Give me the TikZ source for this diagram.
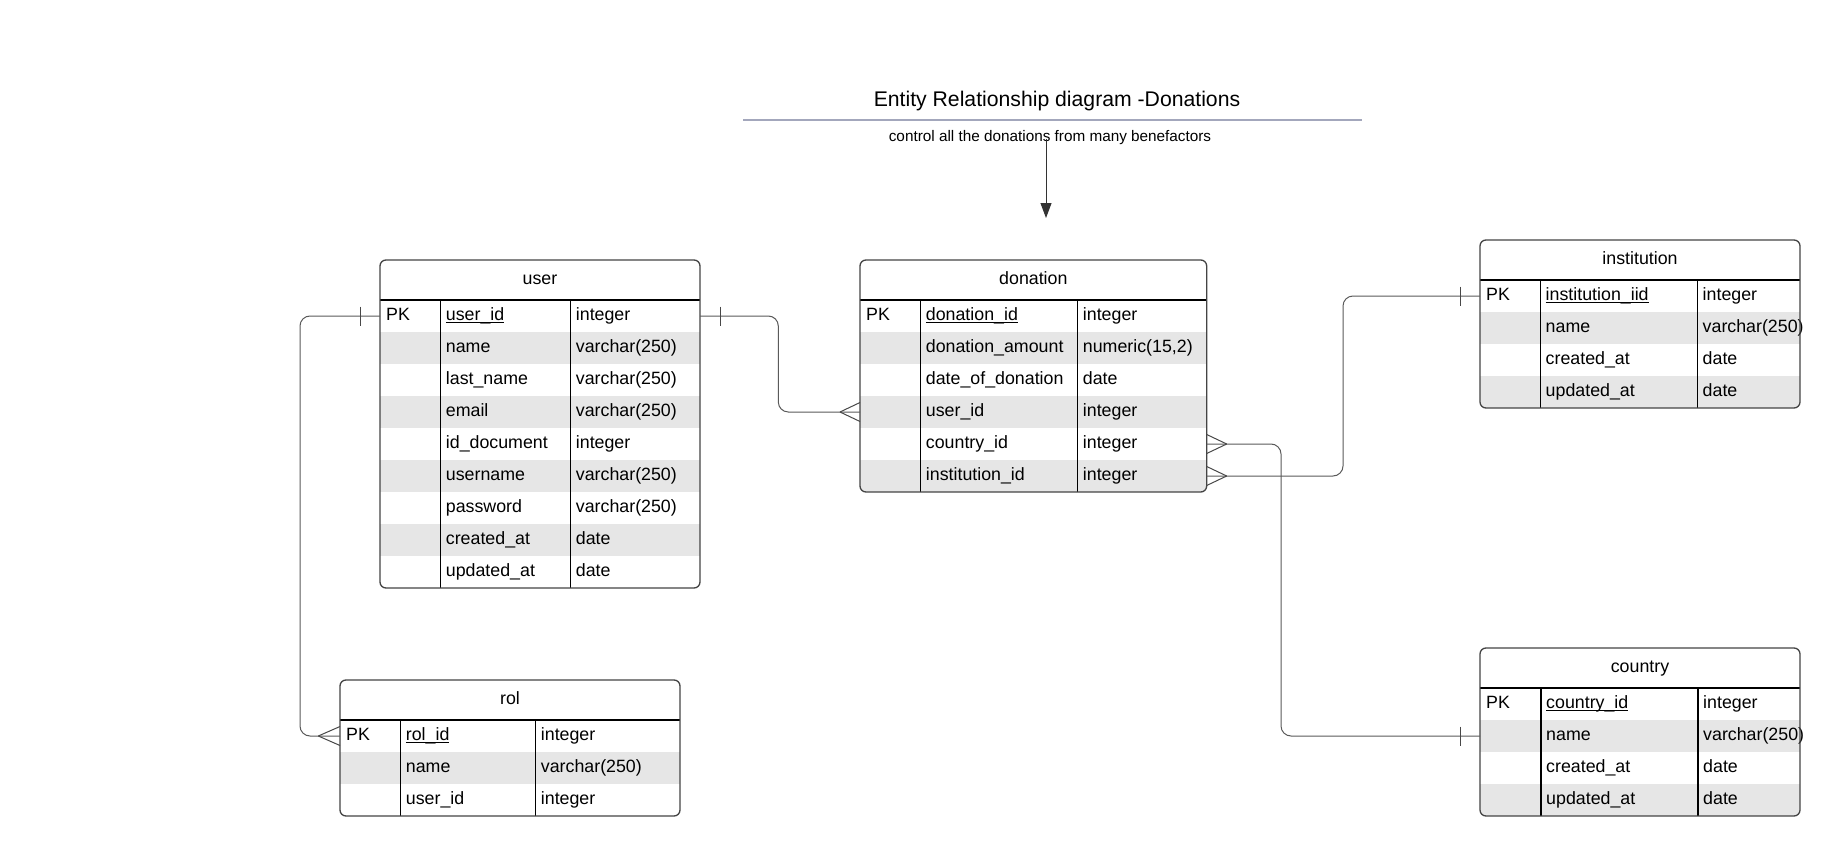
\documentclass[tikz,border=0pt]{standalone}
\usepackage{fontspec}
\setmainfont{Liberation Sans}
\usetikzlibrary{arrows.meta}
\definecolor{rowgray}{HTML}{E6E6E6}
\definecolor{edgecol}{HTML}{444444}
\definecolor{conncol}{HTML}{5A5A5A}
\definecolor{titlerulecol}{HTML}{A3A7BC}
\newcommand{\pkul}[1]{\setbox0\hbox{#1}\rlap{\rule[-2.4pt]{\wd0}{0.9pt}}\box0}
\tikzset{
  celltxt/.style={anchor=base west, inner sep=0pt, font=\fontsize{17.8}{21}\selectfont},
  hdrtxt/.style={anchor=base, inner sep=0pt, font=\fontsize{17.8}{21}\selectfont},
  tabframe/.style={draw=edgecol, line width=1.3pt, rounded corners=6pt},
  divider/.style={draw=black, line width=1.2pt},
  connline/.style={draw=conncol, line width=1pt, rounded corners=10pt},
  markline/.style={draw=conncol!80!black, line width=1pt},
  titlerule/.style={draw=titlerulecol, line width=1.6pt},
}
\newcommand{\ertab}[9]{%
  \pgfmathsetmacro{\ybot}{#6+40+32*#7}%
  \begin{scope}
    \clip[rounded corners=6pt] (#2,#6) rectangle (#5,\ybot);
    \foreach \fn/\ft [count=\i] in {#9} {
      \ifodd\i\relax\else
        \fill[rowgray] (#2,{#6+40+32*(\i-1)}) rectangle (#5,{#6+72+32*(\i-1)});
      \fi
    }
  \end{scope}
  \node[hdrtxt] (#1-title) at ({(#2+#5)/2},#6+24) {#8};
  \node[celltxt] (#1-pk) at (#2+6,#6+60) {PK};
  \foreach \fn/\ft [count=\i] in {#9} {
    \pgfmathsetmacro{\yb}{#6+60+32*(\i-1)}
    \pgfmathsetmacro{\yc}{#6+56+32*(\i-1)}
    \node[celltxt] (#1-n\i) at (#3+5,\yb) {\ifnum\i=1 \pkul{\fn}\else\fn\fi};
    \node[celltxt] (#1-t\i) at (#4+5,\yb) {\ft};
    \coordinate (#1-L\i) at (#2,\yc);
    \coordinate (#1-R\i) at (#5,\yc);
  }
  \draw[divider] (#2,#6+40) -- (#5,#6+40) (#3,#6+40) -- (#3,\ybot) (#4,#6+40) -- (#4,\ybot);
  \draw[tabframe] (#2,#6) rectangle (#5,\ybot);
}
\begin{document}
\begin{tikzpicture}[x=1pt,y=-1pt]
\useasboundingbox (0,0) rectangle (1840,856);
\fill[white] (0,0) rectangle (1840,856);

% title
\node[anchor=base, inner sep=0pt, font=\fontsize{21.2}{25}\selectfont] (title) at (1057,106.5) {Entity Relationship diagram -Donations};
\coordinate (ruleL) at (743,120.3);
\coordinate (ruleR) at (1362,120.3);
\draw[titlerule] (ruleL) -- (ruleR);
\node[anchor=base, inner sep=0pt, font=\fontsize{15.3}{18}\selectfont] (subtitle) at (1050,141.5) {control all the donations from many benefactors};
\coordinate (astart) at (1046,139);
\coordinate (aend) at (1046,218);
\draw[draw=black!80, line width=1pt, -{Triangle[length=15pt,width=11pt]}] (astart) -- (aend);

% tables
\ertab{user}{380}{440.7}{570.7}{700}{260}{9}{user}{user\_id/integer, name/varchar(250), last\_name/varchar(250), email/varchar(250), id\_document/integer, username/varchar(250), password/varchar(250), created\_at/date, updated\_at/date}
\ertab{donation}{860}{920.7}{1077.7}{1206.7}{260}{6}{donation}{donation\_id/integer, donation\_amount/{numeric(15,2)}, date\_of\_donation/date, user\_id/integer, country\_id/integer, institution\_id/integer}
\ertab{institution}{1480}{1540.5}{1697.5}{1800}{240}{4}{institution}{institution\_iid/integer, name/varchar(250), created\_at/date, updated\_at/date}
\ertab{country}{1480}{1541}{1698}{1800}{648}{4}{country}{country\_id/integer, name/varchar(250), created\_at/date, updated\_at/date}
\ertab{rol}{340}{400.7}{535.7}{680}{680}{3}{rol}{rol\_id/integer, name/varchar(250), user\_id/integer}

% connectors
\draw[connline] (user-R1) -- ++(78.3,0) |- (donation-L4);
\draw[connline] (user-L1) -- ++(-80,0) |- (rol-L1);
\draw[connline] (donation-R5) -- ++(74.3,0) |- (country-L2);
\draw[connline] (donation-R6) -- ++(136.3,0) |- (institution-L1);

% one marks
\draw[markline] (user-R1) ++(20,-9.5) -- ++(0,19);
\draw[markline] (user-L1) ++(-20,-9.5) -- ++(0,19);
\draw[markline] (institution-L1) ++(-20,-9.5) -- ++(0,19);
\draw[markline] (country-L2) ++(-20,-9.5) -- ++(0,19);

% many marks
\draw[markline] (donation-L4) ++(-20,0) -- ++(20,-9.5) (donation-L4) ++(-20,0) -- ++(20,9.5);
\draw[markline] (rol-L1) ++(-21.7,0) -- ++(21.7,-9.5) (rol-L1) ++(-21.7,0) -- ++(21.7,9.5);
\draw[markline] (donation-R5) ++(20,0) -- ++(-20,-9.5) (donation-R5) ++(20,0) -- ++(-20,9.5);
\draw[markline] (donation-R6) ++(20,0) -- ++(-20,-9.5) (donation-R6) ++(20,0) -- ++(-20,9.5);
\end{tikzpicture}
\end{document}
